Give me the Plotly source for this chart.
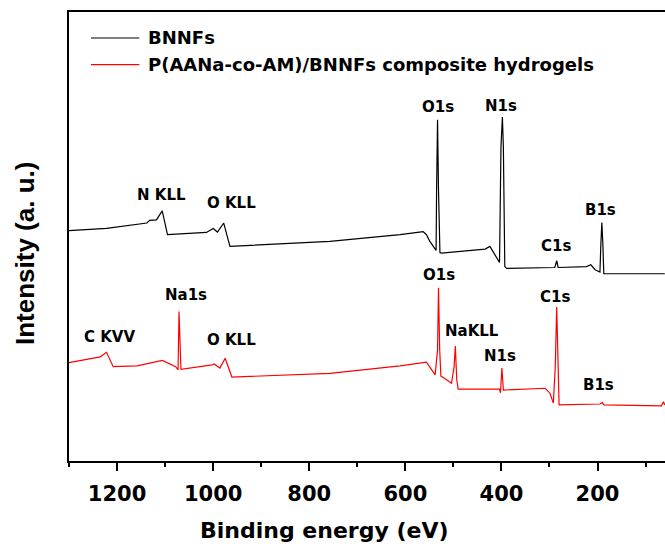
import plotly.graph_objects as go

# Binding energy (eV) and intensity (a.u.)
bnnfs_energy = [1300, 1222, 1138, 1132, 1118, 1106, 1095, 1014, 1000, 991, 978, 965, 757,
                611, 563, 556, 549, 542, 536, 535, 533, 531, 528, 525, 434, 424, 413, 404,
                401, 398, 396, 393, 389, 289, 285, 282, 223, 214, 205, 195, 193, 191, 189,
                187, 60]
bnnfs_intensity = [51.3, 51.8, 53.0, 53.6, 53.7, 55.7, 50.4, 50.9, 51.8, 51.0, 53.0, 47.8, 48.9,
                   50.4, 51.1, 50.4, 48.9, 47.8, 46.9, 60.0, 76.0, 60.4, 46.4, 46.3, 47.2, 47.8, 45.9, 44.2,
                   70.0, 76.6, 70.0, 43.3, 42.9, 43.1, 44.6, 43.1, 43.3, 43.7, 42.6, 42.1, 48.5, 53.1, 48.5,
                   41.7, 41.7]

gel_energy = [1300, 1247, 1235, 1222, 1208, 1158, 1106, 1078, 1073, 1071, 1067, 1002, 998, 986,
              975, 961, 757, 611, 556, 545, 538, 533, 531, 528.5, 526, 521, 504, 498.5, 496, 493,
              490, 404, 402, 399, 396, 309, 299, 292, 288, 285, 282, 280, 195, 190, 187, 67, 63, 60]
gel_intensity = [21.9, 22.9, 23.2, 24.2, 21.0, 21.2, 22.4, 21.0, 20.3, 33.3, 20.4, 21.4, 21.6, 20.7,
                 22.9, 18.7, 19.5, 21.2, 22.0, 20.3, 19.2, 24.7, 38.6, 24.7, 18.9, 18.6, 17.3, 21.0, 25.6, 18.1,
                 16.0, 16.0, 15.2, 20.7, 15.8, 16.2, 15.1, 12.9, 21.0, 34.3, 21.0, 12.5, 12.7, 13.0, 12.5, 12.3, 13.2, 12.5]

series_names = ["BNNFs", "P(AANa-co-AM)/BNNFs composite hydrogels"]
series_colors = ["#000000", "#ff0000"]

# Peak labels: (text, energy, intensity)
peak_labels = [
    ("O1s", 532, 78.9), ("N1s", 400, 79.1), ("N KLL", 1108, 59.3), ("O KLL", 961, 57.4),
    ("B1s", 193, 55.9), ("C1s", 286, 47.8),
    ("O1s", 529, 41.5), ("Na1s", 1057, 37.0), ("C KVV", 1216, 27.7), ("O KLL", 961, 27.0),
    ("NaKLL", 462, 29.0), ("N1s", 402, 23.4), ("C1s", 288, 36.6), ("B1s", 197, 16.9),
]

x_ticks = [1200, 1000, 800, 600, 400, 200]

WIDE = "DejaVu Sans, sans-serif"
NARROW = "Liberation Sans, Arial, sans-serif"

fig = go.Figure()
fig.add_trace(go.Scatter(x=bnnfs_energy, y=bnnfs_intensity, mode="lines",
                         line=dict(color=series_colors[0], width=1.2), name=series_names[0]))
fig.add_trace(go.Scatter(x=gel_energy, y=gel_intensity, mode="lines",
                         line=dict(color=series_colors[1], width=1.2), name=series_names[1]))

for text, e, v in peak_labels:
    fig.add_annotation(x=e, y=v, text=f"<b>{text}</b>", showarrow=False,
                       xanchor="center", yanchor="middle",
                       font=dict(family=WIDE, size=15, color="#000000"))

# manual legend
leg_line_y = [0.9421, 0.8826]
leg_text_y = [0.9427, 0.8832]
for i, name in enumerate(series_names):
    fig.add_shape(type="line", xref="paper", yref="paper", x0=0.0369, x1=0.118,
                  y0=leg_line_y[i], y1=leg_line_y[i], line=dict(color=series_colors[i], width=1.2))
    fig.add_annotation(xref="paper", yref="paper", x=0.1287, y=leg_text_y[i],
                       text=f"<b>{name}</b>", showarrow=False, xanchor="left", yanchor="middle",
                       font=dict(family=WIDE, size=18, color="#000000"))

# axis titles
fig.add_annotation(xref="paper", yref="paper", x=0.428, y=-0.1545, text="<b>Binding energy (eV)</b>",
                   showarrow=False, xanchor="center", yanchor="middle",
                   font=dict(family=WIDE, size=22, color="#000000"))
fig.add_annotation(xref="paper", yref="paper", x=-0.0738, y=0.461, text="<b>Intensity (a. u.)</b>",
                   showarrow=False, xanchor="center", yanchor="middle", textangle=-90,
                   font=dict(family=NARROW, size=26, color="#000000"))

fig.update_layout(
    width=665, height=547,
    margin=dict(l=69, r=0, t=12, b=86),
    paper_bgcolor="white", plot_bgcolor="white",
    showlegend=False,
    xaxis=dict(range=[1300, 59.6], tickvals=x_ticks, ticktext=[f"<b>{t}</b>" for t in x_ticks],
               ticks="outside", ticklen=8, tickwidth=2, tickcolor="#000000",
               ticklabelstandoff=5,
               minor=dict(dtick=100, tick0=0, ticks="outside", ticklen=4, tickwidth=2, tickcolor="#000000"),
               showline=True, linecolor="#000000", linewidth=2, mirror=True,
               showgrid=False, zeroline=False,
               tickfont=dict(family=WIDE, size=21, color="#000000")),
    yaxis=dict(range=[0, 100], showticklabels=False, ticks="", showgrid=False, zeroline=False,
               showline=True, linecolor="#000000", linewidth=2, mirror=False),
)

fig.write_html("out.html",
               config={"displayModeBar": False},
               post_script="document.body.style.margin='0px';document.body.style.overflow='hidden';")
